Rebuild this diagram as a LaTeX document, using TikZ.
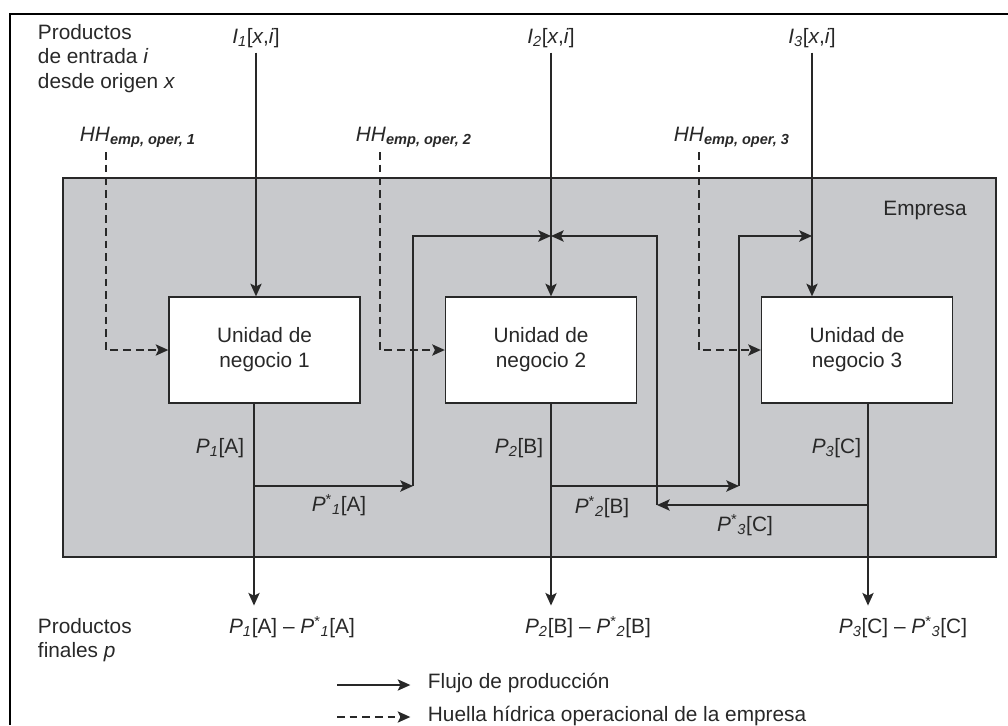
\documentclass[tikz,border=0pt]{standalone}
\usepackage{fontspec}
\setmainfont{Liberation Sans}
\usetikzlibrary{positioning}
\usetikzlibrary{arrows.meta}
\definecolor{empresagray}{RGB}{200,201,204}
\definecolor{inkgray}{RGB}{40,40,40}
\newcommand{\supsub}[2]{\textsuperscript{#1}\textsubscript{#2}}

\begin{document}
\begin{tikzpicture}
		[x=0.025cm, y=-0.025cm,
		every node/.style={text=inkgray, font=\fontsize{14.8}{17.7}\selectfont},
		unit/.style={draw=inkgray, fill=white, line width=0.9pt, minimum width=4.775cm, minimum height=2.65cm, align=center},
		flow/.style={draw=inkgray, line width=1.3pt, -{Stealth[length=9pt, width=8pt, inset=2pt]}},
		water/.style={flow, dash pattern=on 5.5pt off 3.5pt}]
		\useasboundingbox (0,0) rectangle (1008,725);
		\draw[line width=1.4pt] (1008,14) -- (10,14) -- (10,725);
		\draw[fill=empresagray, draw=inkgray, line width=0.9pt] (63,178) rectangle (996,557);
		\node (empresa) at (925,210) {Empresa};

		\node[align=left, anchor=north west] (entrada) at (33,19) {Productos\\de entrada \textit{i}\\desde origen \textit{x}};
		\node (in1) at (256,38) {\textit{I}\textsubscript{\textit{1}}[\textit{x},\textit{i}]};
		\node (in2) at (551,38) {\textit{I}\textsubscript{\textit{2}}[\textit{x},\textit{i}]};
		\node (in3) at (812,38) {\textit{I}\textsubscript{\textit{3}}[\textit{x},\textit{i}]};
		\node[anchor=west] (hh1) at (75,137) {\textit{HH}\textsubscript{\textbf{\textit{emp, oper, 1}}}};
		\node[anchor=west] (hh2) at (351,137) {\textit{HH}\textsubscript{\textbf{\textit{emp, oper, 2}}}};
		\node[anchor=west] (hh3) at (669,137) {\textit{HH}\textsubscript{\textbf{\textit{emp, oper, 3}}}};

		\node[unit] (unit1) at (264.5,350) {Unidad de\\negocio 1};
		\node[unit] (unit2) at (541,350) {Unidad de\\negocio 2};
		\node[unit] (unit3) at (857,350) {Unidad de\\negocio 3};

		\coordinate (hh1a) at (106,152);
		\coordinate (hh2a) at (380,152);
		\coordinate (hh3a) at (699,152);
		\coordinate (j1) at (254,486);
		\coordinate (k1) at (413,486);
		\coordinate (j2) at (551,486);
		\coordinate (k2) at (739,486);
		\coordinate (j3) at (868,505);
		\coordinate (k3) at (657,505);
		\coordinate (m2) at (551,236);
		\coordinate (m3) at (812,236);

		\node[anchor=east] (p1) at (249,448) {\textit{P}\textsubscript{\textit{1}}[A]};
		\node[anchor=east] (p2) at (548,448) {\textit{P}\textsubscript{\textit{2}}[B]};
		\node[anchor=east] (p3) at (866,448) {\textit{P}\textsubscript{\textit{3}}[C]};
		\node (ps1) at (339,505) {\textit{P}\supsub{*}{\textit{1}}[A]};
		\node (ps2) at (602,507) {\textit{P}\supsub{*}{\textit{2}}[B]};
		\node (ps3) at (745,525) {\textit{P}\supsub{*}{\textit{3}}[C]};

		\node (out1) at (292,627) {\textit{P}\textsubscript{\textit{1}}[A] – \textit{P}\supsub{*}{\textit{1}}[A]};
		\node (out2) at (588,627) {\textit{P}\textsubscript{\textit{2}}[B] – \textit{P}\supsub{*}{\textit{2}}[B]};
		\node (out3) at (903,627) {\textit{P}\textsubscript{\textit{3}}[C] – \textit{P}\supsub{*}{\textit{3}}[C]};
		\node[align=left, anchor=north west] (finales) at (33,613) {Productos\\finales \textit{p}};

		\draw[flow] (in1) -- (in1 |- unit1.north);
		\draw[flow] (in2) -- (in2 |- unit2.north);
		\draw[flow] (in3) -- (in3 |- unit3.north);
		\draw[water] (hh1a) |- (unit1.west);
		\draw[water] (hh2a) |- (unit2.west);
		\draw[water] (hh3a) |- (unit3.west);

		\draw[flow, shorten >=4pt] (unit1.south -| j1) -- (j1 |- out1.north);
		\draw[flow, shorten >=4pt] (unit2.south -| j2) -- (j2 |- out2.north);
		\draw[flow, shorten >=4pt] (unit3.south -| j3) -- (j3 |- out3.north);
		\draw[flow] (j1) -- (k1);
		\draw[flow] (k1) |- (m2);
		\draw[flow] (j2) -- (k2);
		\draw[flow] (k2) |- (m3);
		\draw[flow] (j3) -- (k3);
		\draw[flow] (k3) |- (m2);

		\node[anchor=west] (legflow) at (423,683) {Flujo de producción};
		\node[anchor=west] (legwater) at (423,716) {Huella hídrica operacional de la empresa};
		\coordinate (lf) at (337,685);
		\coordinate (lw) at (337,717);
		\draw[flow, shorten >=9pt] (lf) -- (lf -| legflow.west);
		\draw[water, shorten >=9pt] (lw) -- (lw -| legwater.west);
	\end{tikzpicture}
\end{document}
